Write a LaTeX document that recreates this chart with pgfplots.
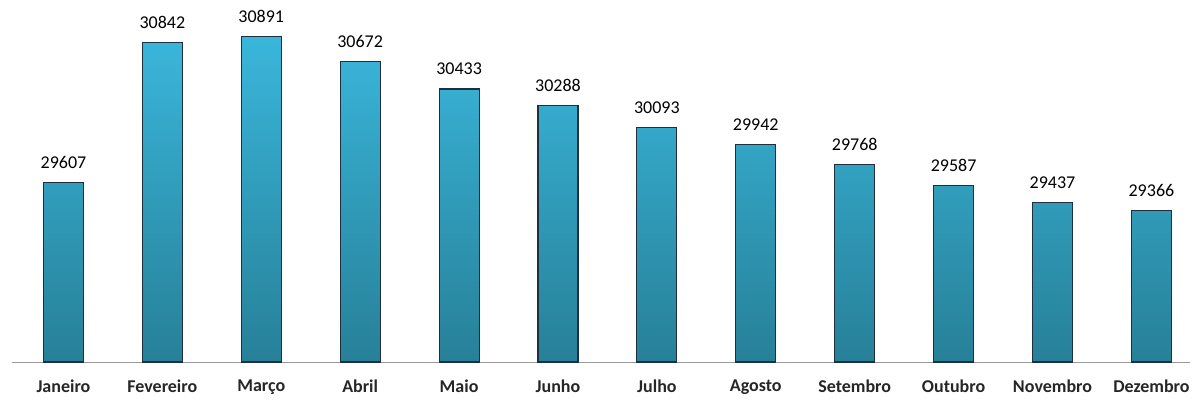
\documentclass[border=0pt]{standalone}
\usepackage{pgfplots}
\pgfplotsset{compat=1.18}
\usepackage{fontspec}
\setmainfont{Carlito}
\definecolor{bartop}{RGB}{58,182,219}
\definecolor{barbot}{RGB}{39,128,152}
\definecolor{barline}{RGB}{30,48,64}
\begin{document}
\begin{tikzpicture}
\useasboundingbox (-12pt,-40pt) rectangle (1181pt,362pt);
\begin{axis}[
  scale only axis, width=1178pt, height=362pt,
  xmin=-0.52, xmax=11.39, ymin=28033, ymax=31215,
  axis x line*=bottom, hide y axis,
  x axis line style={-, draw=gray!80},
  xtick=data, major tick length=0pt,
  xticklabels={Janeiro,Fevereiro,Março,Abril,Maio,Junho,Julho,Agosto,Setembro,Outubro,Novembro,Dezembro},
  xticklabel style={font=\fontsize{18}{21}\selectfont\bfseries, text=black!85, yshift=-14pt},
  ybar, bar width=40pt,
  nodes near coords,
  every node near coord/.append style={font=\fontsize{18}{21}\selectfont, yshift=10pt, black},
  point meta=explicit symbolic,
]
\addplot[draw=barline, line width=1.1pt, top color=bartop, bottom color=barbot] coordinates {
(0,29607)[29607] (1,30842)[30842] (2,30891)[30891] (3,30672)[30672] (4,30433)[30433] (5,30288)[30288]
(6,30093)[30093] (7,29942)[29942] (8,29768)[29768] (9,29587)[29587] (10,29437)[29437] (11,29366)[29366]};
\end{axis}
\end{tikzpicture}
\end{document}
